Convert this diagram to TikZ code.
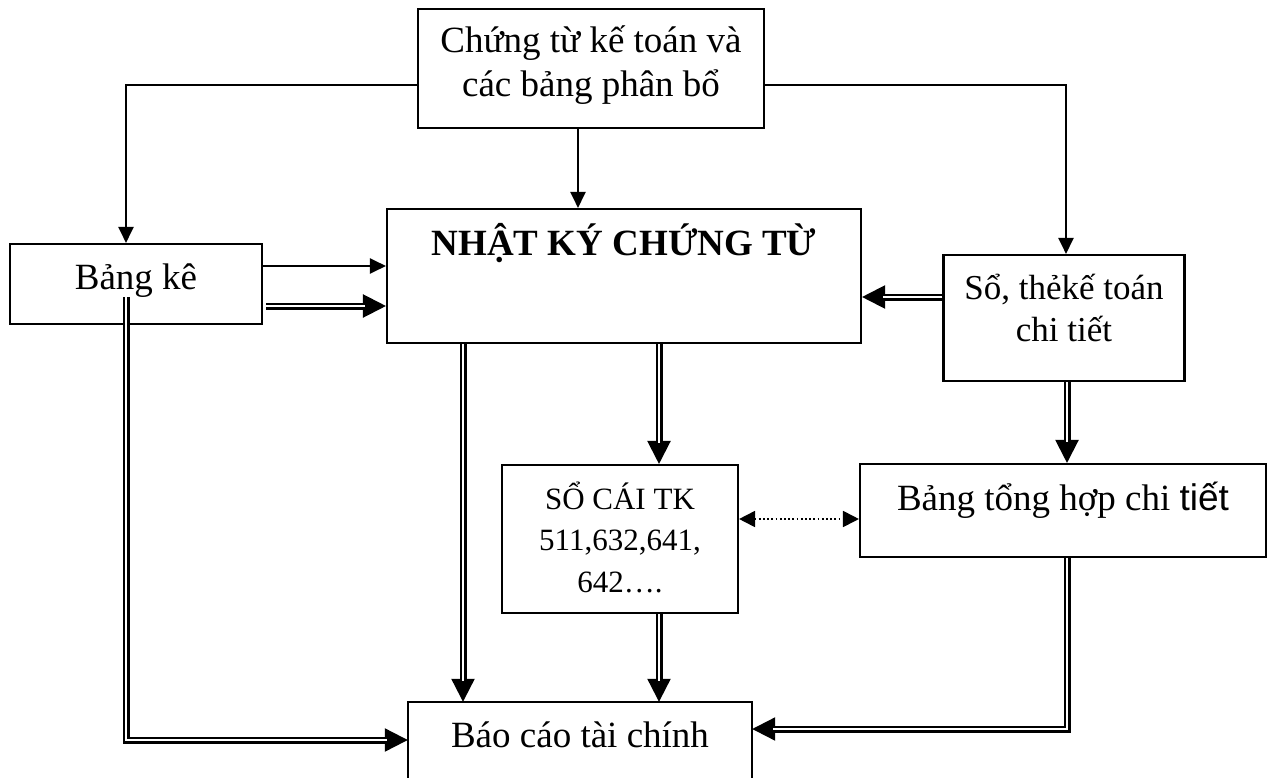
\documentclass[tikz,border=0pt]{standalone}
\usepackage{fontspec}
\setmainfont{Liberation Serif}
\newfontfamily\sansf{Liberation Sans}
\usetikzlibrary{arrows.meta}
\tikzset{
  box/.style={draw, line width=2.1pt, rectangle, inner sep=0pt, align=center},
  txt/.style={inner sep=0pt, align=center},
  arr/.style={line width=2.2pt, -{Triangle[length=16pt,width=15pt]}},
  dblhead/.style={line width=2.2pt, -{Triangle[length=23pt,width=23pt]}},
  dbl/.style={double, double distance=2.6pt, line width=2.2pt, shorten >=21pt},
  dotarr/.style={line width=1.8pt, dash pattern=on 1.8pt off 2.4pt,
    {Triangle[length=16pt,width=16pt]}-{Triangle[length=16pt,width=16pt]}}
}
\begin{document}
\begin{tikzpicture}[x=1pt,y=-1pt,font=\fontsize{37pt}{44pt}\selectfont]
\clip (0,0) rectangle (1273,778);
\fill[white] (0,0) rectangle (1273,778);
% boxes
\node[box, minimum width=346pt, minimum height=119pt] (cg) at (591,68.5) {};
\node[txt] (cgt) at (591,65) {Chứng từ kế toán và\\các bảng phân bổ};
\node[box, minimum width=474pt, minimum height=134pt] (nk) at (624,276) {};
\node[txt, font=\bfseries\fontsize{37pt}{44pt}\selectfont, anchor=base] (nkt) at (624,255) {NHẬT KÝ CHỨNG TỪ};
\node[box, minimum width=252pt, minimum height=80pt] (bk) at (136,284) {};
\node[txt, anchor=base] (bkt) at (136,289) {Bảng kê};
\node[box, minimum width=241pt, minimum height=126pt] (st) at (1064,318) {};
\node[txt, font=\fontsize{35pt}{42pt}\selectfont] (stt) at (1064,308) {Sổ, thẻkế toán\\chi tiết};
\node[box, minimum width=406pt, minimum height=93pt] (bth) at (1063,510.5) {};
\node[txt, anchor=base] (btht) at (1063,510) {Bảng tổng hợp chi {\sansf tiết}};
\node[box, minimum width=236pt, minimum height=148pt] (sc) at (620,539) {};
\node[txt, font=\fontsize{31pt}{41.5pt}\selectfont] (sct) at (620,537) {SỔ CÁI TK\\511,632,641,\\642….};
\node[inner sep=0pt, minimum width=344pt, minimum height=76pt] (bc) at (580,740) {};
\node[txt, anchor=base] (bct) at (580,747) {Báo cáo tài chính};
\draw[line width=2.1pt] ([yshift=-30pt]bc.south west) -- (bc.north west) -- (bc.north east) -- ([yshift=-30pt]bc.south east);
% single arrows
\draw[arr] ([yshift=-16.5pt]cg.west) -| ([xshift=-10pt]bk.north);
\draw[arr] ([yshift=-16.5pt]cg.east) -| ([xshift=2pt]st.north);
\draw[arr] ([xshift=-13pt]cg.south) -- ([xshift=-13pt]cg.south |- nk.north);
\draw[arr] ([yshift=18pt]bk.east) -- ([yshift=18pt]bk.east -| nk.west);
% double arrows
\coordinate (bkin) at ([xshift=3pt,yshift=-22pt]bk.east);
\draw[dblhead] (bkin) -- (bkin -| nk.west);
\draw[dbl] (bkin) -- (bkin -| nk.west);
\coordinate (stin) at ([yshift=21pt]st.west);
\draw[dblhead] (stin) -- (stin -| nk.east);
\draw[dbl] (stin) -- (stin -| nk.east);
\coordinate (nk1) at ([xshift=-161pt]nk.south);
\draw[dblhead] (nk1) -- (nk1 |- bc.north);
\draw[dbl] (nk1) -- (nk1 |- bc.north);
\coordinate (nk2) at ([xshift=35pt]nk.south);
\draw[dblhead] (nk2) -- (nk2 |- sc.north);
\draw[dbl] (nk2) -- (nk2 |- sc.north);
\coordinate (sc2) at ([xshift=39pt]sc.south);
\draw[dblhead] (sc2) -- (sc2 |- bc.north);
\draw[dbl] (sc2) -- (sc2 |- bc.north);
\coordinate (st2) at ([xshift=3pt]st.south);
\draw[dblhead] (st2) -- (st2 |- bth.north);
\draw[dbl] (st2) -- (st2 |- bth.north);
\coordinate (bkd) at ([xshift=-10pt,yshift=-13pt]bk.center);
\draw[dblhead] (bkd) |- (bc.west);
\draw[dbl] (bkd) |- (bc.west);
\coordinate (bth2) at ([xshift=4pt]bth.south);
\coordinate (bcr) at ([yshift=11pt]bc.east);
\draw[dblhead] (bth2) |- (bcr);
\draw[dbl] (bth2) |- (bcr);
% dotted
\draw[dotarr] ([yshift=20pt]sc.east) -- ([yshift=20pt]sc.east -| bth.west);
\end{tikzpicture}
\end{document}
